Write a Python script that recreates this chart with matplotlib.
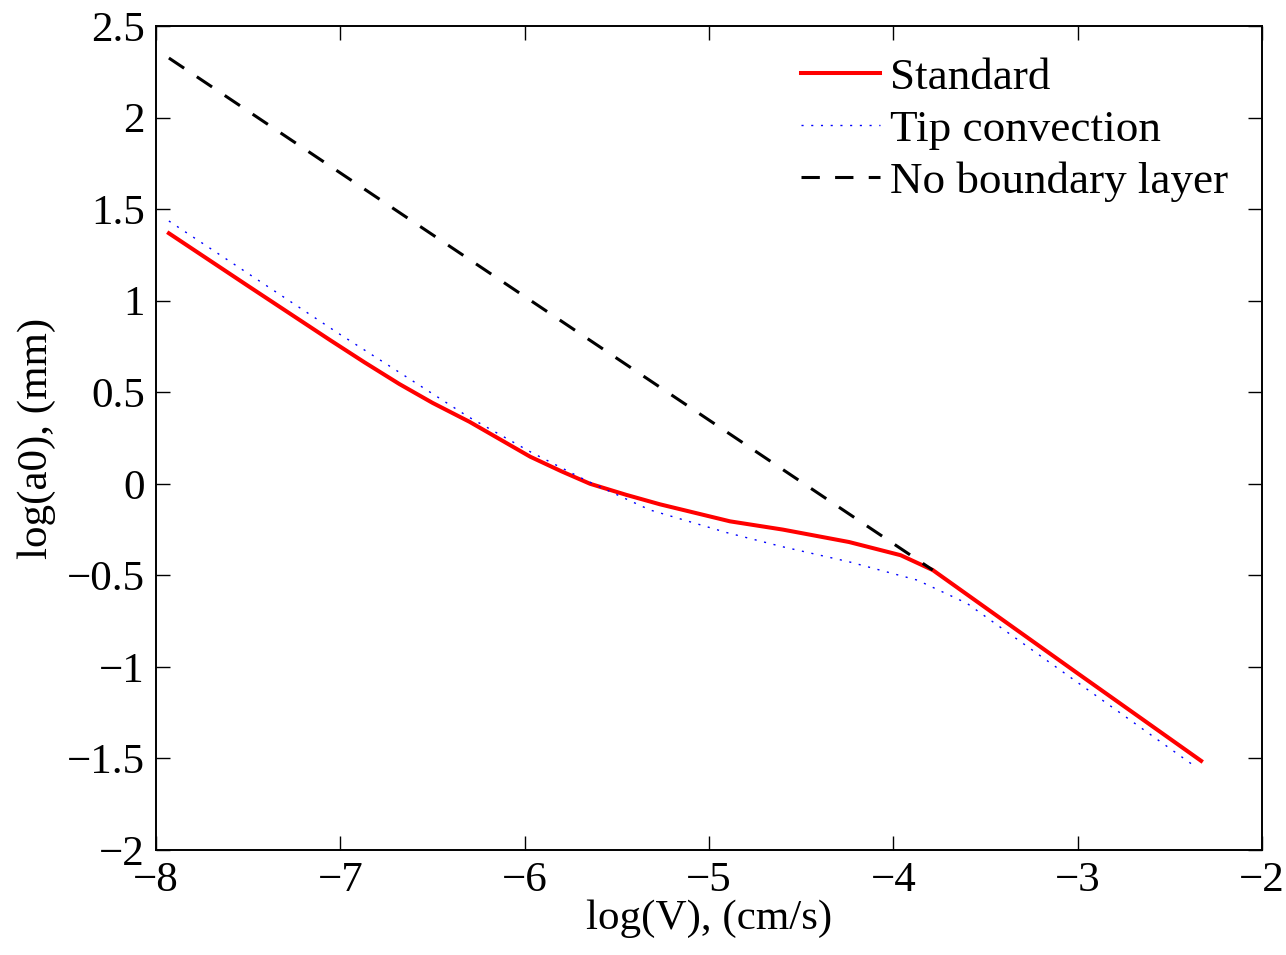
import numpy as np
import matplotlib.pyplot as plt

plt.rcParams['font.family'] = ['Liberation Serif', 'DejaVu Serif']
plt.rcParams['mathtext.fontset'] = 'stix'

# Standard
logV_std = [-7.93, -7.5, -7.056, -6.87, -6.68, -6.5, -6.3, -5.97, -5.8, -5.645, -5.45, -5.266, -4.886, -4.6, -4.24, -3.96, -3.786, -3.0, -2.33]
loga_std = [1.368, 1.080, 0.785, 0.664, 0.545, 0.442, 0.339, 0.148, 0.068, 0.0, -0.060, -0.112, -0.205, -0.25, -0.318, -0.39, -0.471, -1.035, -1.513]

# Tip convection
logV_tip = [-7.93, -7.011, -6.685, -6.306, -5.97, -5.664, -5.32, -4.902, -4.60, -4.24, -3.87, -3.60, -2.354]
loga_tip = [1.435, 0.822, 0.612, 0.366, 0.175, 0.017, -0.143, -0.267, -0.344, -0.426, -0.526, -0.653, -1.55]

# No boundary layer
logV_nbl = [-7.93, -3.786]
loga_nbl = [2.325, -0.471]

fig = plt.figure(figsize=(12.86, 9.55), dpi=100)
ax = fig.add_axes([0.1213, 0.1099, 0.86, 0.8629])

lw = 2.9
ax.plot(logV_std, loga_std, color='red', linewidth=lw, label='Standard')
ax.plot(logV_tip, loga_tip, color='blue', linewidth=1.0, linestyle=(0, (1.5, 5.5)), label='Tip convection')
ax.plot(logV_nbl, loga_nbl, color='black', linewidth=2.2, linestyle=(0, (6.0, 5.0)), label='No boundary layer')

ax.set_xlim(-8, -2)
ax.set_ylim(-2, 2.5)
ax.set_xticks(np.arange(-8, -1, 1))
ax.set_yticks(np.arange(-2, 2.6, 0.5))
ax.set_yticklabels(['\u22122', '\u22121.5', '\u22121', '\u22120.5', '0', '0.5', '1', '1.5', '2', '2.5'])
ax.set_xticklabels(['\u22128', '\u22127', '\u22126', '\u22125', '\u22124', '\u22123', '\u22122'])
ax.tick_params(direction='in', length=10, width=1, labelsize=31, top=True, right=True, pad=8)
for s in ax.spines.values():
    s.set_linewidth(1.4)

ax.set_xlabel('log(V), (cm/s)', fontsize=31, labelpad=0)
ax.set_ylabel('log(a0), (mm)', fontsize=31, labelpad=8)

ax.legend(loc='upper right', frameon=False, fontsize=32.5, handlelength=1.75, handletextpad=0.22,
          labelspacing=0.25, borderaxespad=0.3, bbox_to_anchor=(0.998, 1.0))

plt.savefig('out.png', dpi=100)
